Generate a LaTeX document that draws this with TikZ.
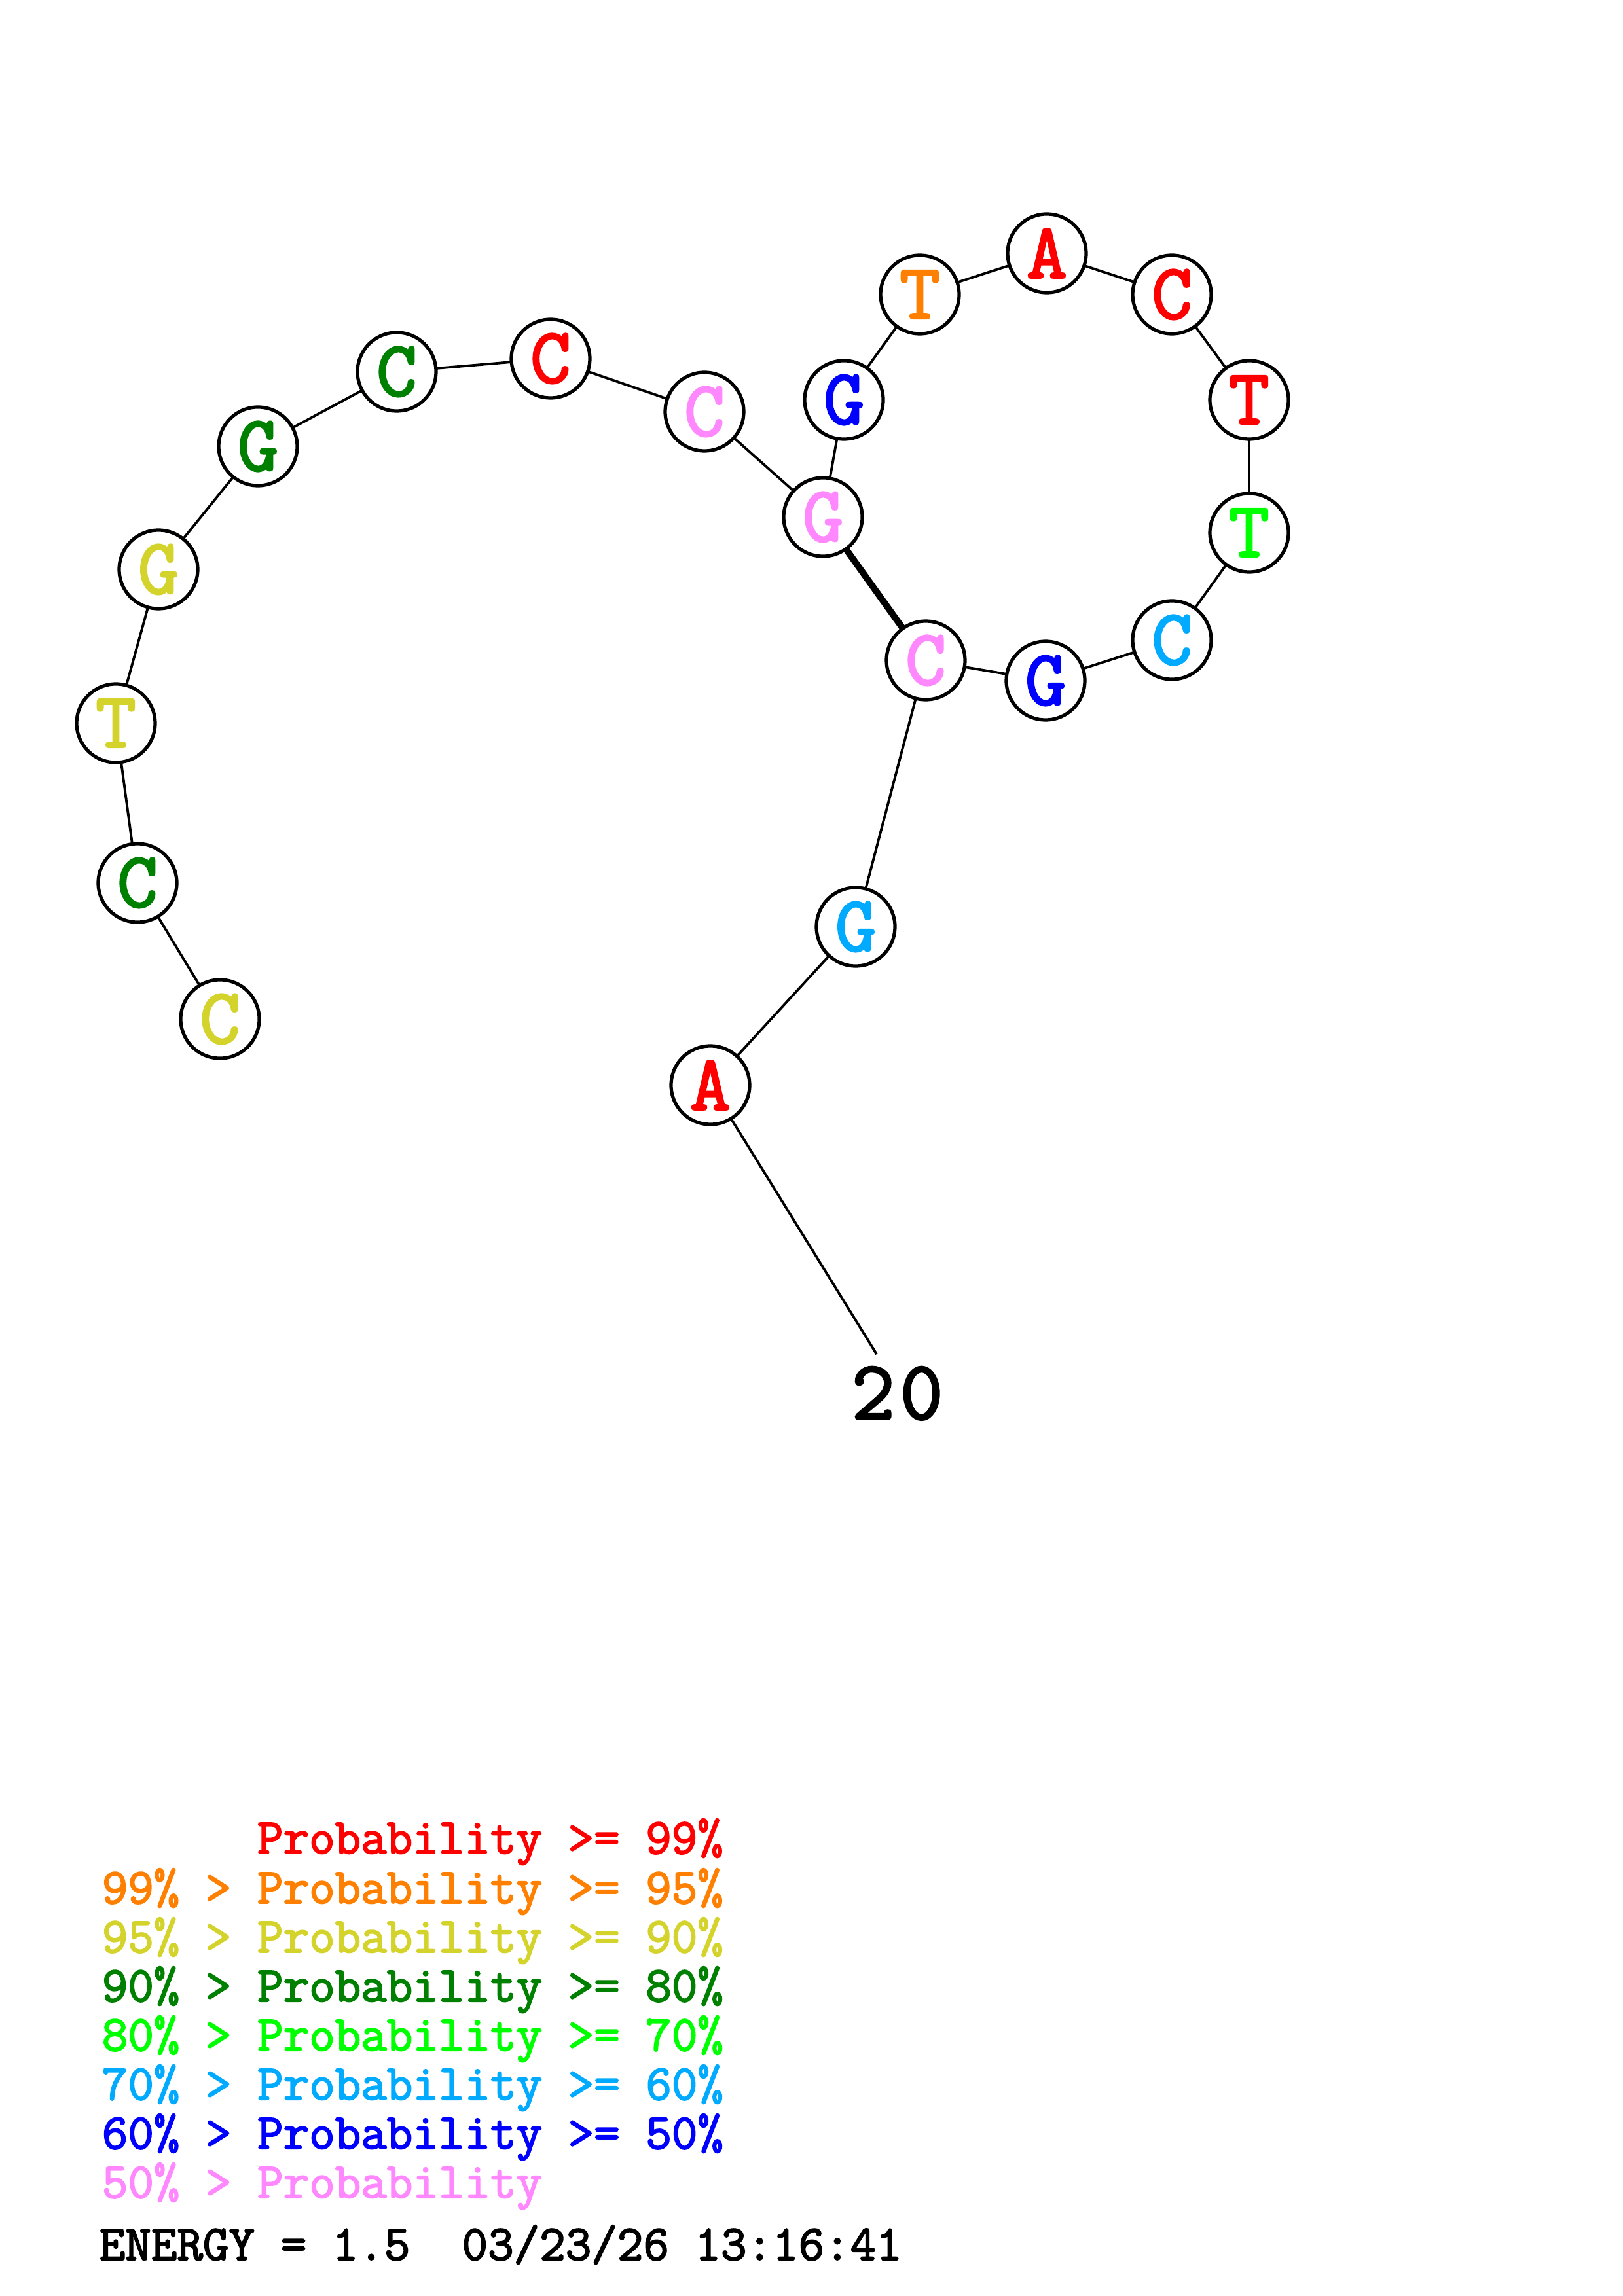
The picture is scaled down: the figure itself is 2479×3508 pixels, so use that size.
\documentclass[tikz,border=0pt]{standalone}
\usepackage{fontspec}
\newfontfamily\cour[FakeBold=2.5]{Latin Modern Mono}
\definecolor{pred}{RGB}{255,0,0}
\definecolor{porange}{RGB}{255,128,0}
\definecolor{pyellow}{RGB}{211,211,44}
\definecolor{pdgreen}{RGB}{0,128,0}
\definecolor{plime}{RGB}{0,255,0}
\definecolor{psky}{RGB}{0,170,255}
\definecolor{pblue}{RGB}{0,0,255}
\definecolor{ppink}{RGB}{255,136,255}
\begin{document}
\begin{tikzpicture}[x=0.25pt,y=-0.25pt,
  base/.style={circle,draw=black,fill=white,line width=1.3pt,minimum size=30pt,inner sep=0pt,
    font=\cour\fontsize{30}{30}\selectfont},
  link/.style={line width=0.95pt},
  pair/.style={line width=2.5pt},
  legend/.style={anchor=base west,inner sep=0pt,font=\cour\fontsize{19.2}{19.2}\selectfont}]
\useasboundingbox (0,0) rectangle (2479,3508);
\coordinate (n1) at (336,1557);
\coordinate (n2) at (210,1349);
\coordinate (n3) at (177,1105);
\coordinate (n4) at (242,870);
\coordinate (n5) at (394,682);
\coordinate (n6) at (606,568);
\coordinate (n7) at (841,548);
\coordinate (n8) at (1076,629);
\coordinate (n9) at (1257,790);
\coordinate (n10) at (1289,611);
\coordinate (n11) at (1405,450);
\coordinate (n12) at (1599,387);
\coordinate (n13) at (1790,450);
\coordinate (n14) at (1908,611);
\coordinate (n15) at (1908,814);
\coordinate (n16) at (1790,978);
\coordinate (n17) at (1597,1040);
\coordinate (n18) at (1414,1009);
\coordinate (n19) at (1307,1416);
\coordinate (n20) at (1085,1658);
\coordinate (tail) at (1339,2069);
\draw[link] (n1)--(n2)--(n3)--(n4)--(n5)--(n6)--(n7)--(n8)--(n9)--(n10)--(n11)--(n12)--(n13)--(n14)--(n15)--(n16)--(n17)--(n18)--(n19)--(n20)--(tail);
\draw[pair] (n9)--(n18);
\node[base,text=pyellow] (b1) at (n1) {C};
\node[base,text=pdgreen] (b2) at (n2) {C};
\node[base,text=pyellow] (b3) at (n3) {T};
\node[base,text=pyellow] (b4) at (n4) {G};
\node[base,text=pdgreen] (b5) at (n5) {G};
\node[base,text=pdgreen] (b6) at (n6) {C};
\node[base,text=pred] (b7) at (n7) {C};
\node[base,text=ppink] (b8) at (n8) {C};
\node[base,text=ppink] (b9) at (n9) {G};
\node[base,text=pblue] (b10) at (n10) {G};
\node[base,text=porange] (b11) at (n11) {T};
\node[base,text=pred] (b12) at (n12) {A};
\node[base,text=pred] (b13) at (n13) {C};
\node[base,text=pred] (b14) at (n14) {T};
\node[base,text=plime] (b15) at (n15) {T};
\node[base,text=psky] (b16) at (n16) {C};
\node[base,text=pblue] (b17) at (n17) {G};
\node[base,text=ppink] (b18) at (n18) {C};
\node[base,text=psky] (b19) at (n19) {G};
\node[base,text=pred] (b20) at (n20) {A};
\node[anchor=base west,inner sep=0pt,font=\cour\fontsize{32}{32}\selectfont] (lab20) at (1300,2168) {2\kern2pt0};
\node[legend,text=pred] (l1) at (155,2832) {\phantom{99\% > }Probability >= 99\%};
\node[legend,text=porange] (l2) at (155,2908) {99\% > Probability >= 95\%};
\node[legend,text=pyellow] (l3) at (155,2983) {95\% > Probability >= 90\%};
\node[legend,text=pdgreen] (l4) at (155,3058) {90\% > Probability >= 80\%};
\node[legend,text=plime] (l5) at (155,3133) {80\% > Probability >= 70\%};
\node[legend,text=psky] (l6) at (155,3208) {70\% > Probability >= 60\%};
\node[legend,text=pblue] (l7) at (155,3283) {60\% > Probability >= 50\%};
\node[legend,text=ppink] (l8) at (155,3358) {50\% > Probability};
\node[legend,text=black] (en) at (151,3453) {ENERGY = 1.5\ \ 03/23/26 13:16:41};
\end{tikzpicture}
\end{document}
